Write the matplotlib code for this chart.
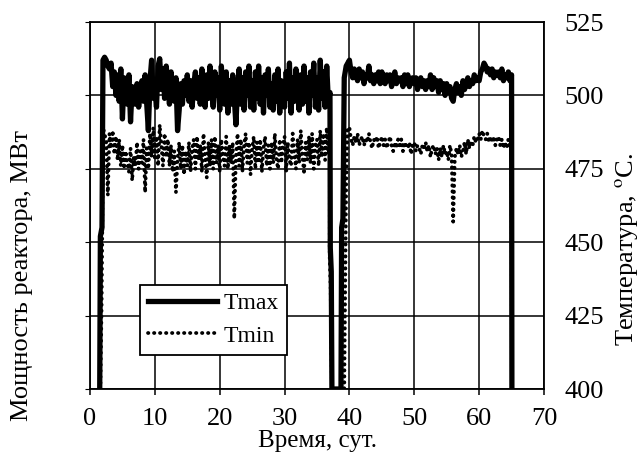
import numpy as np
import matplotlib
matplotlib.use("Agg")
import matplotlib.pyplot as plt

plt.rcParams['font.family'] = ['Liberation Serif', 'DejaVu Serif']
plt.rcParams['mathtext.fontset'] = 'stix'
plt.rcParams['path.simplify'] = False

# ---- data (temperatures, degC) ----
# segment 1: days 2.0 .. 37.0, step 0.25
seg1_days = np.arange(2.0, 37.0 + 1e-9, 0.25)
tmax_seg1 = [
    512, 513, 512, 510,  509, 511, 503, 508,  500, 507, 498, 509,  492, 506, 499, 497,
    507, 491, 503, 498,  497, 504, 496, 501,  505, 498, 507, 497,  488, 505, 512, 499,
    502, 496, 510, 512.5, 502, 509, 499, 510, 504, 497, 508, 500,  498, 506, 488, 495,
    504, 497, 505, 500,  507, 498, 505, 496,  504, 508, 499, 506,  497, 509, 501, 496,
    507, 499, 510, 502,  496, 508, 500, 506,  495, 510, 502, 497,  508, 494, 505, 497,
    507, 499, 490, 503,  509, 497, 506, 495,  508, 500, 510, 496,  505, 495, 508, 499,
    510, 497, 506, 494,  507, 500, 509, 496,  504, 495, 507, 498,  509, 494, 505, 501,
    496, 508, 499, 511,  494, 506, 498, 509,  501, 495, 507, 497,  510, 498, 506, 494,
    508, 500, 511, 496,  506, 495, 512, 499,  508, 496, 510, 498,  501,
]
tmin_seg1 = [
    489, 487, 484, 466,  487, 482, 488, 480,  486, 478, 485, 476,  483, 475, 481, 477,
    474, 482, 471, 479,  476, 484, 475, 481,  477, 485, 467, 482,  475, 487, 479, 489,
    478, 486, 476, 490,  483, 476, 487, 479,  485, 476, 483, 474,  481, 467, 478, 484,
    475, 483, 473, 481,  476, 484, 474, 482,  485, 475, 486, 478,  483, 474, 487, 479,
    472, 484, 476, 485,  475, 486, 477, 483,  474, 485, 479, 476,  486, 475, 483, 477,
    484, 458, 479, 487,  476, 485, 474, 483,  487, 477, 484, 473,  482, 486, 475, 484,
    477, 485, 474, 482,  486, 476, 483, 475,  484, 477, 487, 478,  475, 485, 477, 483,
    486, 474, 484, 478,  476, 487, 480, 475,  485, 477, 488, 479,  474, 484, 478, 486,
    477, 487, 475, 483,  485, 476, 488, 479,  487, 478, 489, 480,  484,
]
# segment 2: days 40.0 .. 65.0, step 0.25
seg2_days = np.arange(40.0, 65.0 + 1e-9, 0.25)
tmax_seg2 = [
    512, 508, 506, 509,  507, 505, 509, 506,  508, 504, 507, 506,  510, 505, 507, 504,
    507, 505, 508, 504,  508, 506, 504, 507,  505, 507, 503, 506,  508, 504, 506, 505,
    506, 503, 507, 504,  507, 503, 505, 506,  504, 506, 502, 505,  506, 503, 505, 502,
    505, 503, 507, 502,  506, 503, 505, 501,  505, 502, 504, 500,  504, 501, 503, 499,
    498, 502, 504, 501,  503, 500, 505, 502,  504, 506, 503, 505,  504, 507, 505, 506,
    505, 508, 509, 511,  510, 508, 509, 507,  509, 506, 508, 507,  508, 506, 509, 505,
    507, 506, 508, 505,  507,
]
tmin_seg2 = [
    489, 485, 483, 486,  484, 487, 483, 485,  486, 483, 485, 484,  487, 484, 482, 485,
    484, 486, 482, 484,  486, 483, 485, 482,  484, 486, 483, 481,  484, 482, 485, 483,
    485, 481, 484, 483,  482, 484, 480, 483,  484, 481, 483, 482,  480, 483, 482, 484,
    481, 483, 479, 482,  483, 480, 482, 478,  482, 479, 483, 480,  481, 478, 483, 480,
    457, 479, 482, 480,  483, 479, 481, 484,  480, 485, 482, 484,  483, 486, 484, 485,
    487, 485, 488, 486,  485, 487, 484, 486,  484, 486, 483, 485,  486, 483, 485, 482,
    484, 482, 485, 483,  483,
]
# shutdown / start-up transitions (day, temperature)
tmax_start = ([1.5, 1.6, 1.85], [400, 452, 455])
tmax_stop1 = ([37.05, 37.2, 37.3], [448, 440, 400])
tmax_restart = ([38.7, 38.8, 39.0, 39.2, 39.5], [400, 455, 458, 506, 510])
tmax_stop2 = ([65.0, 65.05], [507, 400])
tmin_start = ([1.6, 1.8, 1.9], [400, 430, 455])
tmin_stop1 = ([36.95, 37.1, 37.3], [445, 434, 400])
tmin_restart = ([39.2, 39.35, 39.5, 39.7], [400, 436, 470, 489])
tmin_stop2 = ([65.0, 65.05], [483, 400])

tmax_days = np.concatenate([tmax_start[0], seg1_days, tmax_stop1[0], tmax_restart[0], seg2_days, tmax_stop2[0][1:]])
tmax_vals = np.concatenate([tmax_start[1], tmax_seg1, tmax_stop1[1], tmax_restart[1], tmax_seg2, tmax_stop2[1][1:]])
tmin_days = np.concatenate([tmin_start[0], seg1_days, tmin_stop1[0], tmin_restart[0], seg2_days, tmin_stop2[0][1:]])
tmin_vals = np.concatenate([tmin_start[1], tmin_seg1, tmin_stop1[1], tmin_restart[1], tmin_seg2, tmin_stop2[1][1:]])

x_ticks = [0, 10, 20, 30, 40, 50, 60, 70]
y_ticks = [400, 425, 450, 475, 500, 525]

FS = 19

# ---- figure ----
fig = plt.figure(figsize=(6.39, 4.57), dpi=100)
ax = fig.add_axes([90/639, 1-389/457, 454/639, 367/457])

ax.plot(tmax_days, tmax_vals, color='black', lw=3.8, solid_joinstyle='round', label='Tmax', zorder=3)
ax.plot(tmin_days, tmin_vals, color='black', lw=2.7, ls=(0, (0.1, 1.5)), dash_capstyle='round', label='Tmin', zorder=3)

ax.set_xlim(0, 70)
ax.set_ylim(400, 525)
ax.set_xticks(x_ticks)
ax.set_yticks(y_ticks)
ax.grid(True, color='black', lw=1.1)
ax.set_axisbelow(True)
for s in ax.spines.values():
    s.set_linewidth(1.3)
ax.tick_params(axis='x', direction='out', length=4, width=1.1, pad=10, labelsize=FS)
ax.tick_params(axis='y', left=False, right=False, labelleft=False, labelright=False)

ax.set_xlabel('Время, сут.', fontsize=18, labelpad=0)
ax.set_ylabel('Мощность реактора, МВт', fontsize=FS)
ax.yaxis.set_label_coords(-0.126, 0.31)

ax2 = ax.twinx()
ax2.set_ylim(400, 525)
ax2.set_yticks(y_ticks)
ax2.tick_params(axis='y', length=0, pad=15, labelsize=FS)
for s in ax2.spines.values():
    s.set_visible(False)
ax2.set_ylabel(r'Температура, $^{\mathrm{o}}$C.', fontsize=FS, rotation=90)
ax2.yaxis.set_label_coords(1.152, 0.38)

leg = ax.legend(loc='lower left', bbox_to_anchor=(0.11, 0.093), fontsize=17,
                handlelength=2.9, handletextpad=0.3, labelspacing=0.45,
                frameon=True, fancybox=False, borderpad=0.35, borderaxespad=0)
leg.get_frame().set_edgecolor('black')
leg.get_frame().set_linewidth(1.3)
leg.get_frame().set_alpha(1)

fig.savefig('out.png', dpi=100)
